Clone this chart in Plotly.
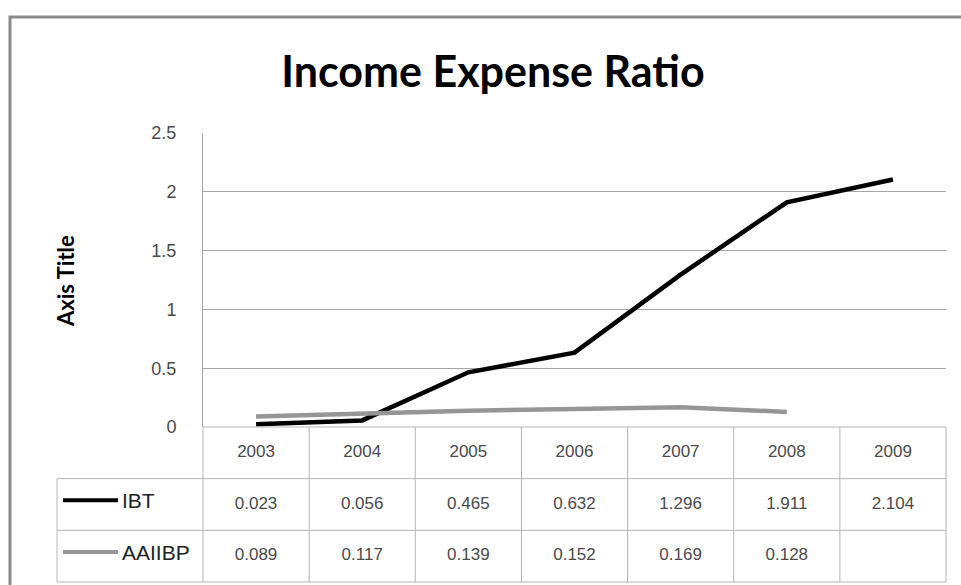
import plotly.graph_objects as go

# ---- data ----
years = ["2003", "2004", "2005", "2006", "2007", "2008", "2009"]
ibt = [0.023, 0.056, 0.465, 0.632, 1.296, 1.911, 2.104]
aaiibp = [0.089, 0.117, 0.139, 0.152, 0.169, 0.128, None]
series_names = ["IBT", "AAIIBP"]
y_ticks = [0, 0.5, 1, 1.5, 2, 2.5]
y_tick_labels = ["0", "0.5", "1", "1.5", "2", "2.5"]

# ---- layout constants (pixels) ----
W, H = 961, 585
PLOT_L, PLOT_R = 203, 946      # plot area / table value columns
PLOT_T, PLOT_B = 133, 427      # top of plot, x-axis line (table top)
TABLE_B = 582                  # table bottom
KEY_L = 57                     # left edge of the legend column
N = len(years)
COL = (PLOT_R - PLOT_L) / N    # px per category
ROW = (TABLE_B - PLOT_B) / 3   # px per table row

series_style = {
    "IBT": dict(color="#000000", width=4.5),
    "AAIIBP": dict(color="#969696", width=4.5),
}
grid_color = "#a6a6a6"
table_line = "#b4b4b4"
text_color = "#4a4a4a"
num_font = "Liberation Sans, Arial, sans-serif"


def px_x(p):
    """paper x from pixel"""
    return p / W


def px_y(p):
    """paper y from pixel (from top)"""
    return (H - p) / H


fig = go.Figure()

# chart lines
for name, vals in zip(series_names, [ibt, aaiibp]):
    fig.add_trace(go.Scatter(
        x=years, y=vals, mode="lines", name=name,
        line=dict(color=series_style[name]["color"], width=series_style[name]["width"]),
        connectgaps=False, showlegend=False, xaxis="x", yaxis="y",
    ))

# ---- data table (its own axes, sharing the column scale) ----
x2_lo = -0.5 + (KEY_L - 8 - PLOT_L) / COL
x2_hi = -0.5 + (PLOT_R + 8 - PLOT_L) / COL
y2_lo = (TABLE_B - H) / ROW
y2_hi = (TABLE_B - (PLOT_B - 4)) / ROW
idx = list(range(N))

# header years
fig.add_trace(go.Scatter(
    x=idx, y=[2.5] * N, mode="text", text=years,
    textfont=dict(family=num_font, size=17, color=text_color),
    xaxis="x2", yaxis="y2", showlegend=False, hoverinfo="skip",
))
# series values
for row_y, vals in zip([1.5, 0.5], [ibt, aaiibp]):
    fig.add_trace(go.Scatter(
        x=idx, y=[row_y] * N, mode="text",
        text=["" if v is None else f"{v:.3f}" for v in vals],
        textfont=dict(family=num_font, size=17, color=text_color),
        xaxis="x2", yaxis="y2", showlegend=False, hoverinfo="skip",
    ))

shapes = []
key_x0 = -0.5 + (KEY_L - PLOT_L) / COL
# horizontal table lines
shapes.append(dict(type="line", xref="x2", yref="y2", x0=-0.5, x1=N - 0.5, y0=3, y1=3,
                   line=dict(color=table_line, width=1)))
for yy in [2, 1, 0]:
    shapes.append(dict(type="line", xref="x2", yref="y2", x0=key_x0, x1=N - 0.5, y0=yy, y1=yy,
                       line=dict(color=table_line, width=1)))
# vertical table lines
for i in range(N + 1):
    shapes.append(dict(type="line", xref="x2", yref="y2", x0=i - 0.5, x1=i - 0.5, y0=0, y1=3,
                       line=dict(color=table_line, width=1)))
shapes.append(dict(type="line", xref="x2", yref="y2", x0=key_x0, x1=key_x0, y0=0, y1=2,
                   line=dict(color=table_line, width=1)))

annotations = []
# legend keys inside the table
for name, row_y in zip(series_names, [1.58, 0.58]):
    st = series_style[name]
    shapes.append(dict(type="line", xref="x2", yref="y2",
                       x0=key_x0 + 6 / COL, x1=key_x0 + 61 / COL, y0=row_y, y1=row_y,
                       line=dict(color=st["color"], width=4)))
    annotations.append(dict(xref="x2", yref="y2", x=key_x0 + 63 / COL, y=row_y,
                            text=name, showarrow=False, xanchor="left", yanchor="middle",
                            font=dict(family=num_font, size=21, color="#222222")))

# outer chart frame
shapes.append(dict(type="rect", xref="paper", yref="paper",
                   x0=px_x(10), x1=1.05, y0=-0.05, y1=px_y(17),
                   line=dict(color="#8a8a8a", width=3), layer="above"))

# y-axis title
annotations.append(dict(xref="paper", yref="paper", x=px_x(65), y=px_y(281),
                        text="<b>Axis Title</b>", textangle=-90, showarrow=False,
                        xanchor="center", yanchor="middle",
                        font=dict(family="Lato, sans-serif", size=22, color="#000000")))

fig.update_layout(
    width=W, height=H,
    margin=dict(l=0, r=0, t=0, b=0, pad=0, autoexpand=False),
    paper_bgcolor="white", plot_bgcolor="rgba(0,0,0,0)",
    title=dict(text="<b>Income Expense Ratio</b>", x=px_x(493), xanchor="center",
               y=px_y(72), yanchor="middle", automargin=False,
               font=dict(family="Lato, sans-serif", size=43, color="#000000")),
    xaxis=dict(domain=[px_x(PLOT_L), px_x(PLOT_R)], type="category",
               categoryorder="array", categoryarray=years,
               range=[-0.5, N - 0.5], showticklabels=False, ticks="",
               showgrid=False, zeroline=False, showline=False, automargin=False),
    yaxis=dict(domain=[px_y(PLOT_B), px_y(PLOT_T)], range=[0, 2.5],
               tickvals=y_ticks, ticktext=y_tick_labels,
               showgrid=True, gridcolor=grid_color, gridwidth=1,
               zeroline=False, showline=True, linecolor=grid_color, linewidth=1,
               ticks="", ticklabelstandoff=22, automargin=False,
               tickfont=dict(family=num_font, size=18, color=text_color)),
    xaxis2=dict(domain=[px_x(KEY_L - 8), px_x(PLOT_R + 8)], range=[x2_lo, x2_hi],
                visible=False, anchor="y2", automargin=False),
    yaxis2=dict(domain=[0, px_y(PLOT_B - 4)], range=[y2_lo, y2_hi],
                visible=False, anchor="x2", automargin=False),
    shapes=shapes,
    annotations=annotations,
    showlegend=False,
)

fig.write_html("out.html")
